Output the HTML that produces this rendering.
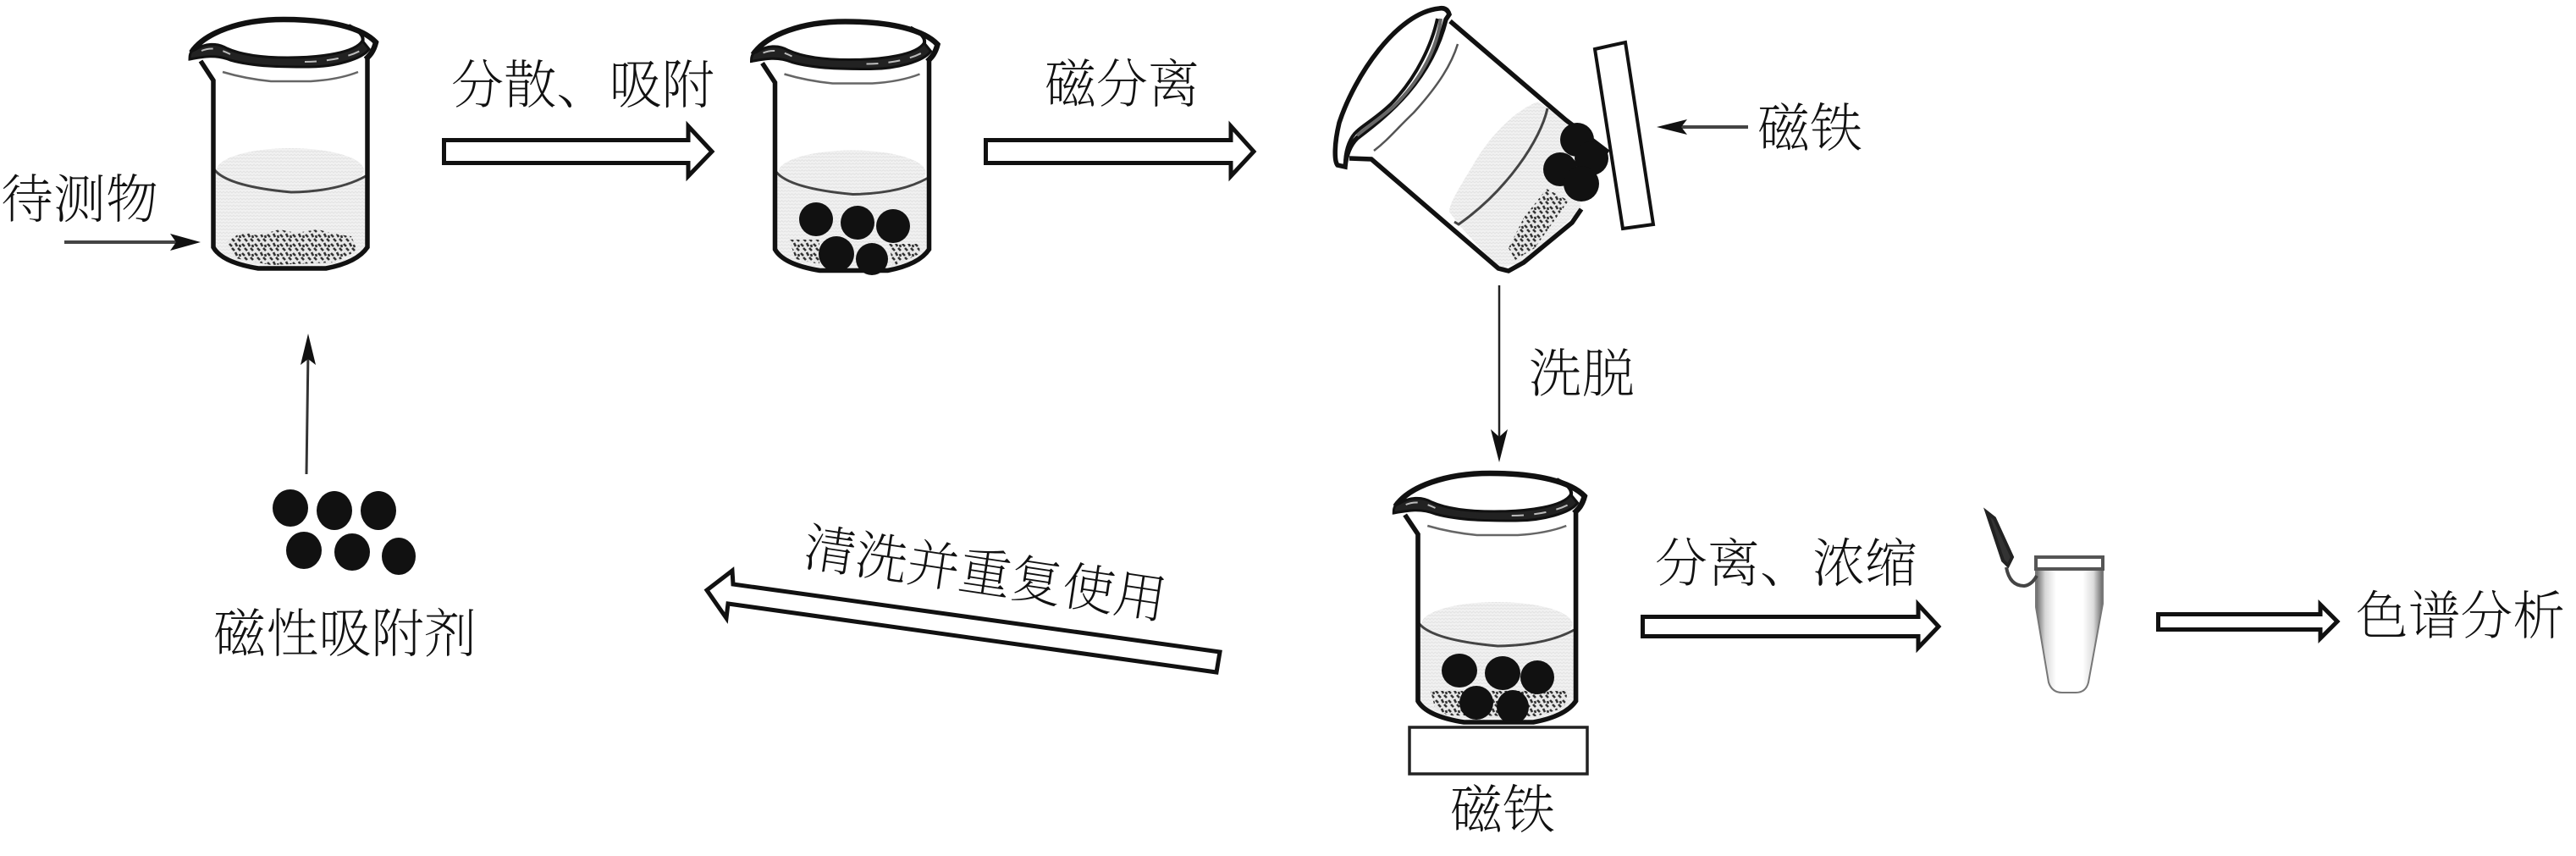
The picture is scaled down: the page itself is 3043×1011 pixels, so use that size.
<!DOCTYPE html>
<html><head><meta charset="utf-8">
<style>
html,body{margin:0;padding:0;background:#fff}
svg{display:block}
text{font-family:"Liberation Serif","Noto Serif CJK SC",serif;font-size:62px;font-weight:200;fill:#111}
</style></head>
<body>
<svg width="3043" height="1011" viewBox="0 0 3043 1011" xmlns="http://www.w3.org/2000/svg">
<defs>
<pattern id="sp" width="15" height="11" patternUnits="userSpaceOnUse">
<rect width="15" height="11" fill="#e8e8e8"/>
<path d="M1 2l3 3M8 1l2 4M13 3l1 3M4 7l3 3M11 7l3 3" stroke="#333" stroke-width="2.600" fill="none"/>
</pattern>
<pattern id="lq" width="8" height="8" patternUnits="userSpaceOnUse">
<rect width="8" height="8" fill="#f1f1f1"/>
<path d="M0 2l2 2 2-2 2 2 2-2M0 6l2 2 2-2 2 2 2-2" stroke="#e4e4e4" stroke-width="1" fill="none"/>
</pattern>
<linearGradient id="tb" x1="0" x2="1" y1="0" y2="0">
<stop offset="0" stop-color="#666"/><stop offset=".14" stop-color="#d8d8d8"/><stop offset=".3" stop-color="#fff"/><stop offset=".7" stop-color="#fff"/><stop offset=".86" stop-color="#dcdcdc"/><stop offset="1" stop-color="#666"/>
</linearGradient>
<g id="beaker">
<path d="M254 203 Q300 228 344 227 Q395 226 432 210 L432 290 Q420 310 385 315 L305 315 Q262 310 254 290Z" fill="url(#lq)"/>
<ellipse cx="343" cy="201" rx="87" ry="26" fill="url(#lq)"/>
<path d="M253 200 Q268 220 344 227 Q400 226 432 208" fill="none" stroke="#444" stroke-width="3"/>
<path d="M263 85 Q290 93 320 96 L367 96 Q400 94 423 85" fill="none" stroke="#666" stroke-width="2.500"/>
<path d="M237 72 L252 95 L252 292 Q262 310 305 317 L385 317 Q422 310 434 292 L434 68" fill="none" stroke="#111" stroke-width="5.500"/>
<path d="M226 62 C242 38 285 23 335 23 C390 23 428 33 444 50 C441 62 436 66 432 70" fill="none" stroke="#111" stroke-width="6.500"/>
<path d="M412 30 Q432 40 428 50" fill="none" stroke="#111" stroke-width="4"/>
<path d="M224 70 C224 62 226 60 230 59 C242 51 256 50 268 57 C290 67 320 68 340 68 C380 68 420 62 428 48 L436 58 C428 70 395 79 365 79 C335 79 300 79 272 71 C255 64 240 67 224 70Z" fill="#222" stroke="#111" stroke-width="3"/>
<path d="M238 60 C250 55 260 58 272 64 M360 73 C385 73 415 68 432 56" fill="none" stroke="#bbb" stroke-width="2" stroke-dasharray="14 12"/>
</g>
</defs>
<rect width="3043" height="1011" fill="#fff"/>

<!-- beaker 1 -->
<use href="#beaker"/>
<path d="M268 286 L285 274 L305 278 L330 271 L350 275 L375 271 L400 277 L415 279 L422 296 L395 310 L320 313 L278 305Z" fill="url(#sp)"/>
<text x="1" y="257" textLength="186" lengthAdjust="spacingAndGlyphs">待测物</text>
<path d="M76 286H210" stroke="#444" stroke-width="4"/>
<path d="M237 286L201 296L208 286L201 276Z" fill="#111"/>

<!-- arrow 1 -->
<path d="M813 165.500H524.500V192.500H813V208L841 179L813 149Z" fill="#fff" stroke="#111" stroke-width="5"/>
<text x="533" y="122" textLength="311" lengthAdjust="spacingAndGlyphs">分散、吸附</text>

<!-- beaker 2 -->
<g transform="translate(663.500 2.500)"><use href="#beaker"/></g>
<path d="M932 283 L968 283 L968 312 L940 306Z" fill="url(#sp)"/>
<path d="M1050 288 L1087 288 L1086 300 L1055 314Z" fill="url(#sp)"/>
<circle cx="964" cy="259" r="20" fill="#111"/>
<circle cx="1013" cy="263" r="20" fill="#111"/>
<circle cx="1055" cy="267" r="20" fill="#111"/>
<circle cx="988" cy="300" r="21" fill="#111"/>
<circle cx="1030" cy="306" r="19" fill="#111"/>

<!-- arrow 2 -->
<path d="M1454 165.500H1164.500V192.500H1454V208L1481 179L1454 149Z" fill="#fff" stroke="#111" stroke-width="5"/>
<text x="1234" y="121" textLength="183" lengthAdjust="spacingAndGlyphs">磁分离</text>

<!-- tilted beaker -->
<path d="M1817 120 C1790 130 1760 160 1740 195 C1725 220 1712 240 1712 250 L1723 265 C1760 245 1800 190 1828 128Z" fill="url(#lq)"/>
<path d="M1828 128 L1850 142 L1868 247 L1800 310 L1770 317 L1723 265 C1760 245 1800 190 1828 128Z" fill="url(#lq)"/>
<path d="M1827 223 L1853 237 L1813 293 L1790 307 L1782 293 L1800 257Z" fill="url(#sp)"/>
<path d="M1828 128 C1820 165 1780 225 1723 265 L1718 262" fill="none" stroke="#444" stroke-width="3"/>
<path d="M1722 52 C1715 75 1700 100 1670 133 C1650 152 1640 165 1623 178" fill="none" stroke="#555" stroke-width="2.500"/>
<path d="M1713 25 L1850 142 L1900 180 M1868 247 L1857 263 L1800 310 L1782 320 L1770 317 L1620 188 L1594 187" fill="none" stroke="#111" stroke-width="5.500"/>
<path d="M1700 10 C1650 15 1600 90 1582 145 C1576 170 1576 190 1580 195 L1589 197 C1590 185 1594 172 1603 163 C1640 135 1690 95 1708 23 L1712 17 C1710 10 1705 9 1700 10Z" fill="#fff" stroke="#111" stroke-width="5.500"/>
<path d="M1698 22 C1692 50 1675 90 1643 123 C1625 140 1610 148 1603 155 C1595 162 1590 175 1589 190" fill="none" stroke="#111" stroke-width="4"/>
<path d="M1702 22 C1698 55 1680 93 1645 127 C1630 140 1615 150 1603 160" fill="none" stroke="#666" stroke-width="4"/>
<circle cx="1863" cy="165" r="20" fill="#111"/>
<circle cx="1880" cy="187" r="20" fill="#111"/>
<circle cx="1843" cy="200" r="20" fill="#111"/>
<circle cx="1868" cy="217" r="21" fill="#111"/>
<path d="M1884 58L1920 50L1953 265L1917 270Z" fill="#fff" stroke="#111" stroke-width="4"/>
<path d="M2065 150H1985" stroke="#444" stroke-width="4"/>
<path d="M1957 150L1993 141L1986 150L1993 159Z" fill="#111"/>
<text x="2076" y="173" textLength="124" lengthAdjust="spacingAndGlyphs">磁铁</text>

<!-- down arrow -->
<path d="M1771 337L1771 520" stroke="#222" stroke-width="2.500"/>
<path d="M1771 546L1761 507L1771 516L1781 507Z" fill="#111"/>
<text x="1806" y="463" textLength="125" lengthAdjust="spacingAndGlyphs">洗脱</text>

<!-- beaker 3 -->
<g transform="translate(1416.700 536) scale(1.025 1)"><use href="#beaker"/></g>
<path d="M1690 816 L1852 816 L1848 836 L1815 846 L1710 845 L1695 836Z" fill="url(#sp)"/>
<ellipse cx="1724" cy="792" rx="21" ry="20" fill="#111"/>
<ellipse cx="1775" cy="795" rx="21" ry="20" fill="#111"/>
<ellipse cx="1816" cy="800" rx="20" ry="20" fill="#111"/>
<ellipse cx="1744" cy="830" rx="20" ry="20" fill="#111"/>
<ellipse cx="1787" cy="835" rx="19" ry="20" fill="#111"/>
<rect x="1665" y="859" width="210" height="55" fill="#fff" stroke="#222" stroke-width="3.500"/>
<text x="1713" y="978" textLength="124" lengthAdjust="spacingAndGlyphs">磁铁</text>

<!-- arrow 3 -->
<path d="M2266 728.500H1940.500V751.500H2266V765L2290 740L2266 714Z" fill="#fff" stroke="#111" stroke-width="5"/>
<text x="1955" y="687" textLength="310" lengthAdjust="spacingAndGlyphs">分离、浓缩</text>

<!-- tube -->
<path d="M2405 672 L2405 717 L2420 806 Q2424 818 2436 818 L2452 818 Q2464 818 2467 806 L2484 713 L2484 672Z" fill="url(#tb)" stroke="#777" stroke-width="2"/>
<rect x="2405" y="658" width="79" height="14" fill="#fff" stroke="#555" stroke-width="4"/>
<path d="M2347 605 L2356 612 L2377 658 L2372 668 L2366 662Z" fill="#333" stroke="#222" stroke-width="4"/>
<path d="M2370 670 Q2374 692 2391 692 Q2400 691 2406 680" fill="none" stroke="#444" stroke-width="4"/>

<!-- arrow 4 -->
<path d="M2741 725.500H2549.500V743.500H2741V754L2761 734L2741 714Z" fill="#fff" stroke="#111" stroke-width="5"/>
<text x="2783" y="749" textLength="247" lengthAdjust="spacingAndGlyphs">色谱分析</text>

<!-- up arrow -->
<path d="M362 560L364 415" stroke="#333" stroke-width="3"/>
<path d="M364 394L355 431L364 424L373 431Z" fill="#111"/>

<!-- sorbent -->
<ellipse cx="343" cy="600" rx="21" ry="22" fill="#111"/>
<ellipse cx="395" cy="603" rx="21" ry="23" fill="#111"/>
<ellipse cx="447" cy="603" rx="21" ry="23" fill="#111"/>
<ellipse cx="359" cy="650" rx="21" ry="22" fill="#111"/>
<ellipse cx="416" cy="652" rx="21" ry="22" fill="#111"/>
<ellipse cx="471" cy="657" rx="20" ry="22" fill="#111"/>
<text x="252" y="770" textLength="311" lengthAdjust="spacingAndGlyphs">磁性吸附剂</text>

<!-- long arrow -->
<path d="M866 690 L1441 770 L1437 794 L860 713 L858 730 L835 697 L865 674Z" fill="#fff" stroke="#111" stroke-width="5"/>
<text transform="translate(947 667) rotate(8.500)" x="0" y="0" textLength="432" lengthAdjust="spacingAndGlyphs">清洗并重复使用</text>
</svg>
</body></html>
